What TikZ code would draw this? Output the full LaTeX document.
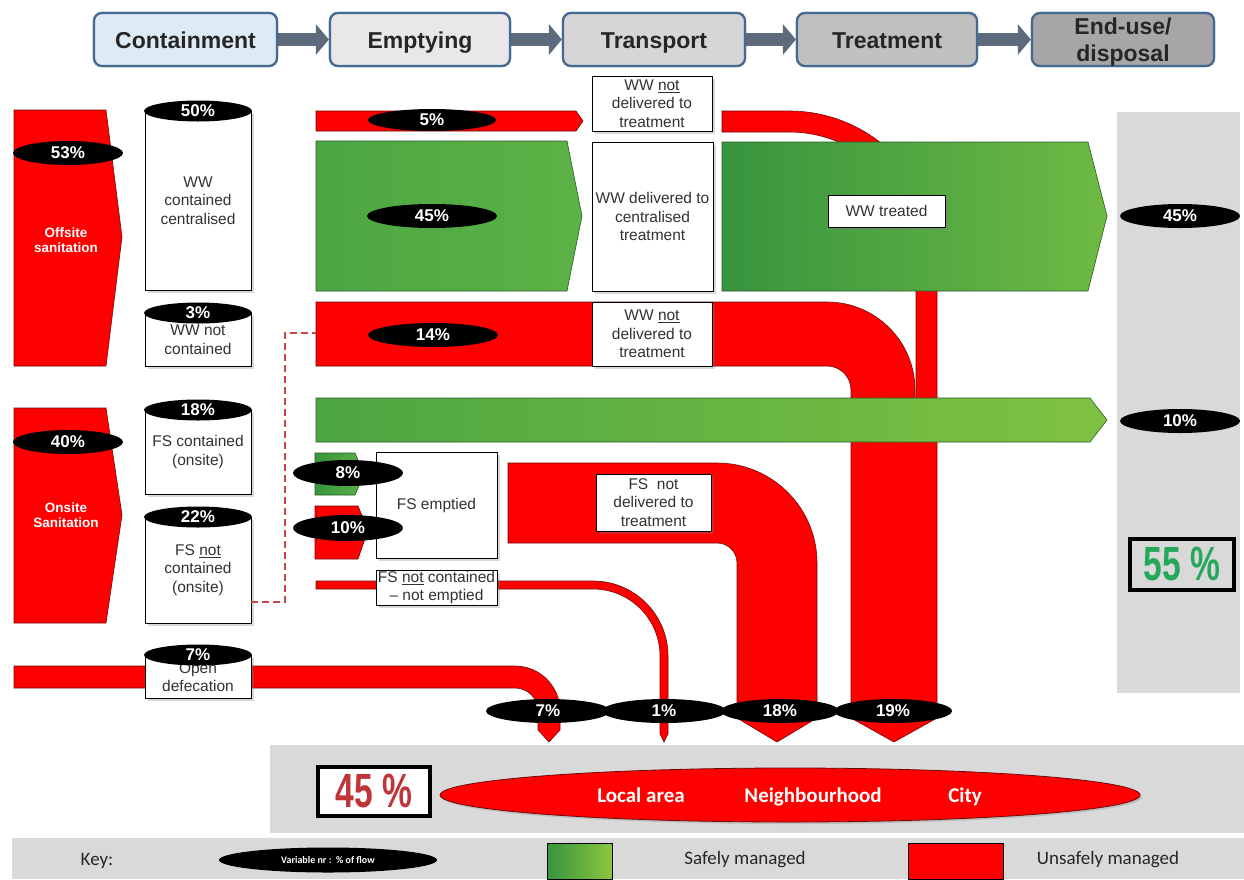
\documentclass[tikz,border=0pt]{standalone}
\usepackage{fontspec}
\setmainfont{Liberation Sans}
\newfontfamily\keyfont{Carlito}
\usetikzlibrary{arrows.meta,shapes.geometric,shadows}
\definecolor{ured}{RGB}{255,0,0}
\definecolor{redline}{RGB}{110,10,10}
\definecolor{gdark}{RGB}{55,148,62}
\definecolor{gmid}{RGB}{76,166,66}
\definecolor{gA}{RGB}{92,178,70}
\definecolor{gB}{RGB}{110,186,68}
\definecolor{gC}{RGB}{128,194,66}
\definecolor{glight}{RGB}{140,198,63}
\definecolor{gline}{RGB}{40,90,40}
\definecolor{hdrline}{RGB}{70,105,145}
\definecolor{hdrarrow}{RGB}{92,106,124}
\definecolor{panel}{RGB}{217,217,217}
\definecolor{okgreen}{RGB}{38,168,92}
\definecolor{badred}{RGB}{192,52,58}
\definecolor{dashred}{RGB}{200,70,70}
\definecolor{txt}{RGB}{50,50,50}
\definecolor{hA}{RGB}{221,235,247}
\definecolor{hB}{RGB}{232,232,232}
\definecolor{hC}{RGB}{214,214,214}
\definecolor{hD}{RGB}{192,192,192}
\definecolor{hE}{RGB}{166,166,166}
\newcommand{\condensed}[1]{\scalebox{0.7}[1]{#1}}
\tikzset{
  hdrbox/.style={draw=hdrline, line width=2.2pt, rounded corners=8pt,
    minimum width=182pt, minimum height=53pt, inner sep=0pt},
  hdrtext/.style={anchor=base, inner sep=0pt, font=\fontsize{23}{27}\selectfont\bfseries, text=black!85},
  hdrlink/.style={draw=hdrarrow, line width=13pt, -{Triangle[length=13pt,width=30pt]}},
  pipe/.style={fill=ured, draw=redline, line width=0.6pt},
  greenflow/.style={draw=gline, line width=0.6pt},
  wbox/.style={draw=black, line width=0.9pt, fill=white, inner sep=0pt,
    align=center, text=txt, font=\fontsize{15.5}{18.5}\selectfont,
    drop shadow={opacity=0.3, shadow xshift=2.5pt, shadow yshift=-2.5pt}},
  pct/.style={ellipse, fill=black, text=white, inner sep=0pt,
    minimum height=24pt, minimum width=#1, font=\fontsize{17}{17}\selectfont\bfseries},
  sidelbl/.style={text=white, align=center, font=\fontsize{13.5}{15.5}\selectfont\bfseries},
  keytext/.style={font=\keyfont\fontsize{19}{19}\selectfont, text=black!85},
  zone/.style={anchor=base, text=white, font=\keyfont\fontsize{21}{21}\selectfont\bfseries},
}
\begin{document}
\begin{tikzpicture}[x=1pt,y=-1pt]
\useasboundingbox (0,0) rectangle (1244,879);
\fill[white] (0,0) rectangle (1244,879);

% background panels
\fill[panel] (1117,112) rectangle (1240,693);
\fill[panel] (270,745) rectangle (1244,833);
\fill[panel] (12,838) rectangle (1244,879);

% header chain
\node[hdrbox, fill=hA, minimum width=183pt] (hcont) at (185.5,39.5) {};
\node[hdrbox, fill=hB, minimum width=180pt] (hempt) at (420,39.5) {};
\node[hdrbox, fill=hC, minimum width=182pt] (htran) at (654,39.5) {};
\node[hdrbox, fill=hD, minimum width=180pt] (htreat) at (887,39.5) {};
\node[hdrbox, fill=hE, minimum width=182pt] (hend) at (1123,39.5) {};
\draw[hdrlink] (hcont.east) -- (hempt.west);
\draw[hdrlink] (hempt.east) -- (htran.west);
\draw[hdrlink] (htran.east) -- (htreat.west);
\draw[hdrlink] (htreat.east) -- (hend.west);
\node[hdrbox, fill=hA, minimum width=183pt] (hcontB) at (185.5,39.5) {};
\node[hdrbox, fill=hB, minimum width=180pt] (hemptB) at (420,39.5) {};
\node[hdrbox, fill=hC, minimum width=182pt] (htranB) at (654,39.5) {};
\node[hdrbox, fill=hD, minimum width=180pt] (htreatB) at (887,39.5) {};
\node[hdrbox, fill=hE, minimum width=182pt] (hendB) at (1123,39.5) {};
\node[hdrtext] (tcont) at (185.5,48) {Containment};
\node[hdrtext] (tempt) at (420,48) {Emptying};
\node[hdrtext] (ttran) at (654,48) {Transport};
\node[hdrtext] (ttreat) at (887,48) {Treatment};
\node[hdrtext] (tend1) at (1123,34) {End-use/};
\node[hdrtext] (tend2) at (1123,61) {disposal};

% left sanitation arrows
\draw[pipe] (14,110) -- (106,110) -- (122,237) -- (106,366) -- (14,366) -- cycle;
\node[sidelbl] (offlbl) at (66,240) {Offsite\\sanitation};
\draw[pipe] (14,408) -- (106,408) -- (122,515) -- (106,623) -- (14,623) -- cycle;
\node[sidelbl] (onlbl) at (66,515) {Onsite\\Sanitation};

% open defecation pipe (7%)
\draw[pipe] (14,666) -- (515,666) arc[start angle=-90,end angle=0,radius=45]
  -- (560,730) -- (549,742) -- (538,730) -- (538,711)
  arc[start angle=0,end angle=-90,radius=23] -- (14,688) -- cycle;

% containment boxes
\node[wbox, minimum width=106pt, minimum height=179pt] (c50) at (198,200.5) {WW\\contained\\centralised};
\node[wbox, minimum width=106pt, minimum height=53pt] (c3) at (198,339.5) {WW not\\contained};
\node[wbox, minimum width=106pt, minimum height=84pt] (c18) at (198,452) {FS contained\\(onsite)};
\node[wbox, minimum width=106pt, minimum height=106pt] (c22) at (198,570) {FS \underline{not}\\contained\\(onsite)};
\node[wbox, minimum width=106pt, minimum height=43pt] (c7) at (198,677) {Open\\defecation};

% red flows
\draw[pipe] (851,430) -- (937,430) -- (937,718) -- (894,742) -- (851,718) -- cycle;
\draw[pipe] (316,111) -- (576,111) -- (583,121) -- (576,131) -- (316,131) -- cycle;
\draw[pipe] (722,111) -- (789,111) arc[start angle=-90,end angle=0,radius=148]
  -- (937,430) -- (916,430) -- (916,259)
  arc[start angle=0,end angle=-90,radius=127] -- (722,132) -- cycle;
\draw[pipe] (316,302) -- (827,302) arc[start angle=-90,end angle=0,radius=88]
  -- (915,430) -- (851,430) -- (851,390)
  arc[start angle=0,end angle=-90,radius=24] -- (316,366) -- cycle;
\draw[pipe] (508,463) -- (717,463) arc[start angle=-90,end angle=0,radius=100]
  -- (817,718) -- (777,742) -- (737,718) -- (737,563)
  arc[start angle=0,end angle=-90,radius=20] -- (508,543) -- cycle;
\draw[pipe] (316,581) -- (593,581) arc[start angle=-90,end angle=0,radius=75]
  -- (668,734) -- (664,742) -- (660,734) -- (660,656)
  arc[start angle=0,end angle=-90,radius=67] -- (316,589) -- cycle;

% green flows
\path[greenflow, left color=gmid, right color=gA] (316,141) -- (567,141) -- (582,216) -- (567,291) -- (316,291) -- cycle;
\path[greenflow, left color=gdark, right color=gB] (722,142) -- (1088,142) -- (1107,216) -- (1088,291) -- (722,291) -- cycle;
\path[greenflow, left color=gmid, right color=gC] (316,398) -- (1090,398) -- (1107,420) -- (1090,442) -- (316,442) -- cycle;
\path[greenflow, left color=gdark, right color=gA] (315,453) -- (355,453) -- (364,474) -- (355,495) -- (315,495) -- cycle;
\draw[pipe] (315,506) -- (358,506) -- (368,530) -- (358,559) -- (315,559) -- cycle;

% white boxes
\node[wbox, minimum width=120pt, minimum height=55pt] (tnot1) at (652,103.5) {WW \underline{not}\\delivered to\\treatment};
\node[wbox, minimum width=121pt, minimum height=149pt] (tdel) at (652.5,216.5) {WW delivered to\\centralised\\treatment};
\node[wbox, minimum width=120pt, minimum height=64pt] (tnot2) at (652,334) {WW \underline{not}\\delivered to\\treatment};
\node[wbox, minimum width=121pt, minimum height=106pt] (fsemp) at (436.5,505) {FS emptied};
\node[wbox, minimum width=121pt, minimum height=35pt] (fsnot) at (436.5,587.5) {FS \underline{not} contained\\-- not emptied};
\node[wbox, minimum width=115pt, minimum height=57pt] (fsnd) at (653.5,502.5) {FS\ \ not\\delivered to\\treatment};
\node[wbox, minimum width=117pt, minimum height=32pt] (wwt) at (886.5,211) {WW treated};

% percentage ellipses
\node[pct=110pt] (p53) at (68,153) {53\%};
\node[pct=110pt] (p40) at (68,442) {40\%};
\node[pct=108pt, minimum height=21pt] (p50) at (198,111) {50\%};
\node[pct=108pt, minimum height=21pt] (p3) at (198,313) {3\%};
\node[pct=108pt, minimum height=21pt] (p18) at (198,410) {18\%};
\node[pct=108pt, minimum height=21pt] (p22) at (198,517) {22\%};
\node[pct=108pt, minimum height=21pt] (p7a) at (198,655) {7\%};
\node[pct=128pt, minimum height=22pt] (p5) at (432,120) {5\%};
\node[pct=130pt] (p45a) at (432,216) {45\%};
\node[pct=130pt] (p14) at (433,335) {14\%};
\node[pct=110pt, minimum height=26pt] (p8) at (348,473) {8\%};
\node[pct=110pt, minimum height=26pt] (p10a) at (348,528) {10\%};
\node[pct=120pt] (p45b) at (1180,216) {45\%};
\node[pct=120pt] (p10b) at (1180,421) {10\%};
\node[pct=124pt] (p7b) at (548,711) {7\%};
\node[pct=124pt] (p1) at (664,711) {1\%};
\node[pct=118pt] (p18b) at (780,711) {18\%};
\node[pct=118pt] (p19) at (893,711) {19\%};

% dashed link
\coordinate (dA) at (251,602);
\coordinate (dB) at (285,602);
\coordinate (dC) at (285,333);
\coordinate (dD) at (316,333);
\draw[dashred, line width=1.4pt, dash pattern=on 7pt off 4pt] (dA) -- (dB) -- (dC) -- (dD);

% results
\node[draw=black, line width=4pt, minimum width=104pt, minimum height=51pt, inner sep=0pt,
  text=okgreen, font=\fontsize{48}{48}\selectfont\bfseries] (safe) at (1182,564.5) {\condensed{55 \%}};
\node[draw=black, line width=3.5pt, fill=white, minimum width=112pt, minimum height=49pt, inner sep=0pt,
  text=badred, font=\fontsize{48}{48}\selectfont\bfseries] (unsafe) at (374,791.5) {\condensed{45 \%}};
\node[ellipse, fill=ured, draw=redline, line width=0.8pt, minimum width=700pt, minimum height=54pt,
  drop shadow={opacity=0.3, shadow xshift=2pt, shadow yshift=-2pt}] (zones) at (790,795) {};
\node[zone] (zlocal) at (641,802) {Local area};
\node[zone] (zneigh) at (813,802) {Neighbourhood};
\node[zone] (zcity) at (965,802) {City};

% key
\node[keytext] (keylbl) at (97,861) {Key:};
\node[ellipse, fill=black, text=white, minimum width=218pt, minimum height=25pt, inner sep=0pt,
  font=\keyfont\fontsize{10}{10}\selectfont\bfseries] (keyvar) at (328,860) {Variable nr\ :\ \ \% of flow};
\path[draw=black, line width=0.8pt, left color=gdark, right color=glight] (547,843) rectangle (612,879);
\node[keytext] (keysafe) at (745,860) {Safely managed};
\draw[fill=ured, draw=black, line width=0.8pt] (908,843) rectangle (1003,879);
\node[keytext] (keyunsafe) at (1108,860) {Unsafely managed};
\end{tikzpicture}
\end{document}
